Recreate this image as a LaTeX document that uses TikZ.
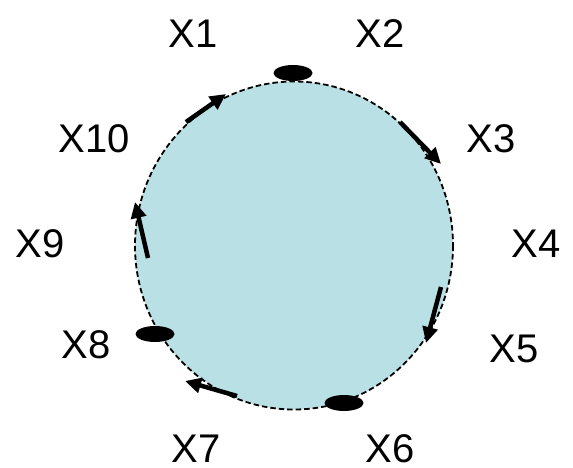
\documentclass[tikz,border=0pt]{standalone}
\usepackage{fontspec}
\setmainfont{Liberation Sans}
\usetikzlibrary{arrows.meta,shapes.geometric}
\definecolor{fillblue}{RGB}{185,224,228}
\begin{document}
\begin{tikzpicture}[x=1pt,y=-1pt,
  lbl/.style={font=\fontsize{40}{40}\selectfont, inner sep=0pt, anchor=base},
  marker/.style={ellipse, fill=black, minimum width=39pt, minimum height=16pt, inner sep=0pt},
  flow/.style={line width=4.5pt, -{Triangle[length=16pt,width=15pt]}}
]
\useasboundingbox (0,0) rectangle (573,467);
% ring
\draw[fill=fillblue, dash pattern=on 5.5pt off 3pt, line width=1.8pt] (294,245.5) ellipse [x radius=159, y radius=164];
% markers
\node[marker] (m2) at (293,73) {};
\node[marker] (m8) at (155,334) {};
\node[marker] (m6) at (344,403) {};
% arrows
\coordinate (a1s) at (186,122); \coordinate (a1e) at (226,94);
\coordinate (a3s) at (400,122); \coordinate (a3e) at (441,164);
\coordinate (a10s) at (148,258); \coordinate (a10e) at (135,202);
\coordinate (a5s) at (441,287); \coordinate (a5e) at (426,343);
\coordinate (a7s) at (237,396); \coordinate (a7e) at (185,381);
\draw[flow] (a1s) -- (a1e);
\draw[flow] (a3s) -- (a3e);
\draw[flow] (a10s) -- (a10e);
\draw[flow] (a5s) -- (a5e);
\draw[flow] (a7s) -- (a7e);
% labels (on baselines)
\node[lbl] (x1) at (193,47) {X1};
\node[lbl] (x2) at (380,47) {X2};
\node[lbl] (x3) at (491,152) {X3};
\node[lbl] (x4) at (536,257) {X4};
\node[lbl] (x5) at (514,362) {X5};
\node[lbl] (x6) at (390,462) {X6};
\node[lbl] (x7) at (196,462) {X7};
\node[lbl] (x8) at (86,358) {X8};
\node[lbl] (x9) at (40,257) {X9};
\node[lbl] (x10) at (94,152) {X10};
\end{tikzpicture}
\end{document}
